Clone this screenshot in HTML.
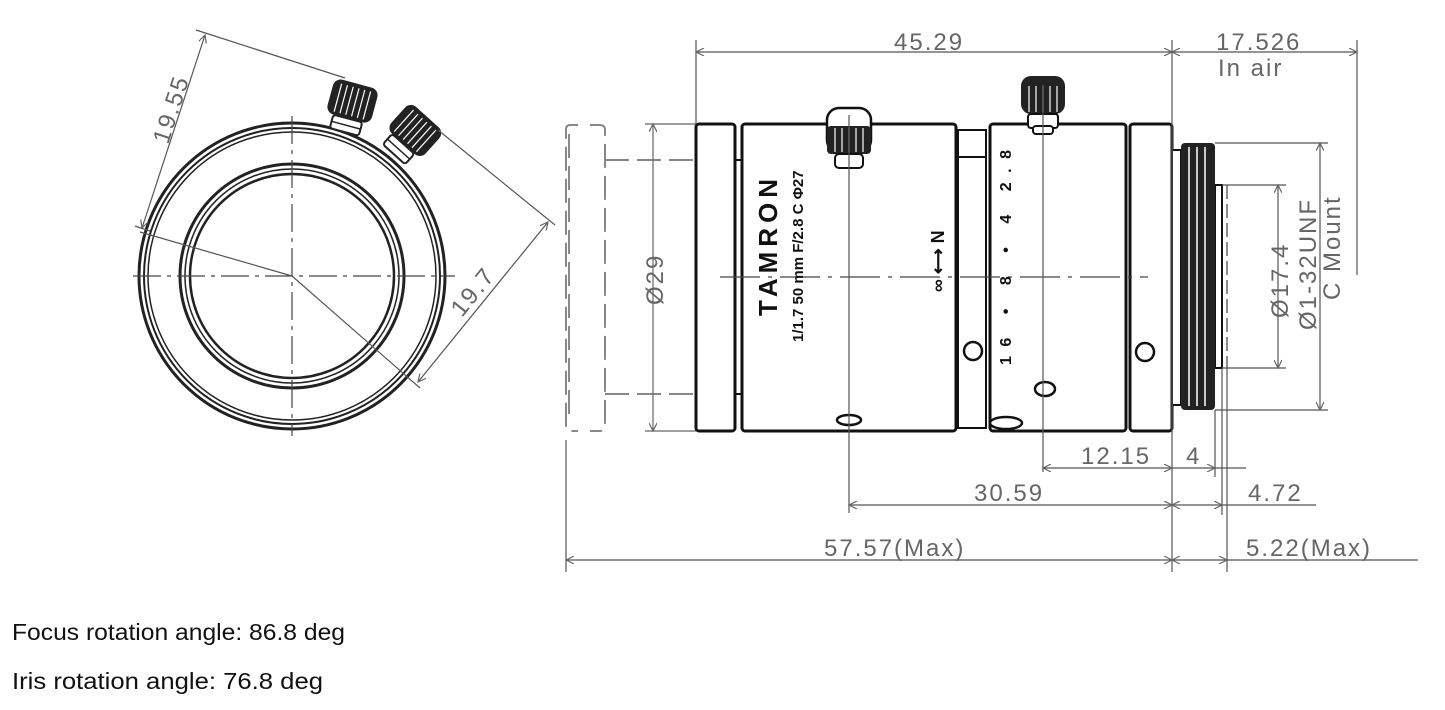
<!DOCTYPE html>
<html><head><meta charset="utf-8"><style>
html,body{margin:0;padding:0;background:#fff;width:1445px;height:710px;overflow:hidden}
svg{display:block}
.d{font-family:"Liberation Sans",sans-serif;font-size:24px;fill:#666;letter-spacing:2px}
.t{font-family:"Liberation Sans",sans-serif;font-weight:bold;fill:#111}
</style></head><body>
<svg width="1445" height="710" viewBox="0 0 1445 710" xmlns="http://www.w3.org/2000/svg">
<defs>
<marker id="a" viewBox="0 0 10 10" refX="10" refY="5" markerWidth="12" markerHeight="8" orient="auto-start-reverse" markerUnits="userSpaceOnUse"><path d="M0,0 L10,5 L0,10" fill="none" stroke="#666" stroke-width="1.5"/></marker>
<g id="knob">
<rect x="-23" y="-20" width="46" height="36" rx="8" fill="#222"/>
<g stroke="#fff" stroke-width="1.2"><line x1="-15" y1="-16" x2="-15" y2="13"/><line x1="-9" y1="-16" x2="-9" y2="13"/><line x1="-3" y1="-16" x2="-3" y2="13"/><line x1="3" y1="-16" x2="3" y2="13"/><line x1="9" y1="-16" x2="9" y2="13"/><line x1="15" y1="-16" x2="15" y2="13"/></g>
<rect x="-15" y="16" width="30" height="14" rx="3" fill="#fff" stroke="#222" stroke-width="2"/>
<line x1="-15" y1="23" x2="15" y2="23" stroke="#222" stroke-width="1.5"/>
</g>
</defs>

<!-- LEFT VIEW -->
<g fill="none" stroke="#222">
<circle cx="292" cy="276" r="153" stroke-width="3"/>
<circle cx="292" cy="276" r="148" stroke-width="2"/>
<circle cx="292" cy="276" r="144" stroke-width="1.5"/>
<circle cx="292" cy="276" r="112" stroke-width="3"/>
<circle cx="292" cy="276" r="107" stroke-width="1.5"/>
<circle cx="292" cy="276" r="102" stroke-width="2.5"/>
</g>
<g stroke="#444" stroke-width="1.2" stroke-dasharray="28,6,4,6">
<line x1="133" y1="276" x2="455" y2="276"/>
<line x1="292" y1="116" x2="292" y2="436"/>
</g>
<g transform="translate(352,103) rotate(15)"><use href="#knob"/></g>
<g transform="translate(414,132) rotate(42)"><use href="#knob"/></g>
<g stroke="#555" stroke-width="1.2" fill="none">
<line x1="292" y1="276" x2="140" y2="232"/>
<line x1="292" y1="276" x2="420" y2="388"/>
<line x1="196" y1="30" x2="345" y2="78"/>
<line x1="205" y1="35" x2="142" y2="228" marker-start="url(#a)" marker-end="url(#a)"/>
<line x1="135" y1="226" x2="150" y2="231"/>
<line x1="438" y1="130" x2="555" y2="225"/>
<line x1="548" y1="222" x2="418" y2="382" marker-start="url(#a)" marker-end="url(#a)"/>
</g>
<text class="d" transform="translate(168,145) rotate(-72)">19.55</text>
<text class="d" transform="translate(462,318) rotate(-51)">19.7</text>

<!-- RIGHT VIEW dashed cap -->
<g fill="none" stroke="#888" stroke-width="2" stroke-dasharray="24,8">
<path d="M578,125 H570 Q566,125 566,130 V426 Q566,431 570,431 H578"/>
<path d="M590,125 H600 Q605,125 605,130 V426 Q605,431 600,431 H590"/>
<line x1="569" y1="134" x2="569" y2="422"/>
<line x1="605" y1="160" x2="695" y2="160"/>
<line x1="605" y1="394" x2="695" y2="394"/>
</g>
<g stroke="#666" stroke-width="1.2">
<line x1="645" y1="124" x2="696" y2="124"/>
<line x1="645" y1="431" x2="696" y2="431"/>
<line x1="653" y1="124" x2="653" y2="431" marker-start="url(#a)" marker-end="url(#a)"/>
</g>
<text class="d" transform="translate(663,305) rotate(-90)">Ø29</text>

<!-- body -->
<g fill="#fff" stroke="#111" stroke-width="3">
<rect x="696" y="124" width="39" height="307" rx="3"/>
<rect x="742" y="124" width="214" height="307" rx="3"/>
<rect x="958" y="130" width="28" height="298" stroke-width="2"/>
<rect x="990" y="124" width="136" height="307" rx="3"/>
<rect x="1130" y="124" width="42" height="307" rx="3"/>
<rect x="1172" y="150" width="9" height="255" stroke-width="2"/>
<rect x="1215" y="185" width="7" height="183" stroke-width="2"/>
</g>
<line x1="735" y1="160" x2="742" y2="160" stroke="#111" stroke-width="2"/>
<line x1="735" y1="394" x2="742" y2="394" stroke="#111" stroke-width="2"/>
<line x1="958" y1="157" x2="986" y2="157" stroke="#111" stroke-width="2"/>
<!-- thread -->
<rect x="1181" y="143" width="34" height="267" rx="4" fill="#222"/>
<g stroke="#fff" stroke-width="1.5"><line x1="1189" y1="147" x2="1189" y2="406"/><line x1="1197" y1="147" x2="1197" y2="406"/><line x1="1205" y1="147" x2="1205" y2="406"/></g>
<line x1="1227" y1="185" x2="1227" y2="368" stroke="#666" stroke-width="1.5" stroke-dasharray="14,5"/>
<!-- center line -->
<line x1="720" y1="277" x2="1148" y2="277" stroke="#444" stroke-width="1.2" stroke-dasharray="40,8,4,8"/>
<!-- knobs -->
<g transform="translate(849,140)"><rect x="-22" y="-32" width="44" height="44" rx="12" fill="#fff" stroke="#111" stroke-width="2.5"/><rect x="-22" y="-14" width="44" height="28" rx="4" fill="#222"/><g stroke="#fff" stroke-width="1.2"><line x1="-14" y1="-12" x2="-14" y2="12"/><line x1="-7" y1="-12" x2="-7" y2="12"/><line x1="0" y1="-12" x2="0" y2="12"/><line x1="7" y1="-12" x2="7" y2="12"/><line x1="14" y1="-12" x2="14" y2="12"/></g><rect x="-14" y="14" width="28" height="14" rx="4" fill="#fff" stroke="#111" stroke-width="2"/></g>
<g transform="translate(1043,104)"><rect x="-22" y="-28" width="44" height="38" rx="10" fill="#222"/><g stroke="#fff" stroke-width="1.2"><line x1="-14" y1="-18" x2="-14" y2="8"/><line x1="-7" y1="-18" x2="-7" y2="8"/><line x1="0" y1="-18" x2="0" y2="8"/><line x1="7" y1="-18" x2="7" y2="8"/><line x1="14" y1="-18" x2="14" y2="8"/></g><rect x="-15" y="10" width="30" height="14" rx="3" fill="#fff" stroke="#111" stroke-width="2"/><rect x="-10" y="22" width="20" height="8" rx="3" fill="#fff" stroke="#111" stroke-width="2"/></g>
<!-- screws -->
<g fill="#fff" stroke="#111" stroke-width="2.5">
<ellipse cx="849" cy="420" rx="12" ry="5"/>
<ellipse cx="1045" cy="389" rx="10" ry="7"/>
<ellipse cx="1006" cy="423" rx="16" ry="6"/>
<circle cx="973" cy="351" r="9"/>
<circle cx="1145" cy="352" r="9"/>
</g>
<!-- lens text -->
<text class="t" font-size="26" letter-spacing="3" transform="translate(777,316) rotate(-90)" textLength="140">TAMRON</text>
<text class="t" font-size="15" transform="translate(803,342) rotate(-90)">1/1.7 50 mm F/2.8 C Φ27</text>
<text class="t" font-size="18" transform="translate(944,292) rotate(-90)">∞ ⟷ N</text>
<text class="t" font-size="16" transform="translate(1011,365) rotate(-90)" textLength="215">16 • 8 • 4 2.8</text>
<!-- vertical dim lines -->
<g stroke="#555" stroke-width="1.2" fill="none">
<line x1="849" y1="115" x2="849" y2="513"/>
<line x1="1043" y1="85" x2="1043" y2="472"/>
<line x1="696" y1="40" x2="696" y2="124"/>
<line x1="1172" y1="40" x2="1172" y2="572"/>
<line x1="1357" y1="40" x2="1357" y2="275"/>
<line x1="1215" y1="410" x2="1215" y2="477"/>
<line x1="1222" y1="368" x2="1222" y2="515"/>
<line x1="1227" y1="368" x2="1227" y2="572"/>
<line x1="566" y1="440" x2="566" y2="572"/>
<line x1="1222" y1="185" x2="1286" y2="185"/>
<line x1="1222" y1="368" x2="1286" y2="368"/>
<line x1="1215" y1="143" x2="1328" y2="143"/>
<line x1="1215" y1="410" x2="1328" y2="410"/>
<line x1="1278" y1="185" x2="1278" y2="368" marker-start="url(#a)" marker-end="url(#a)"/>
<line x1="1320" y1="143" x2="1320" y2="410" marker-start="url(#a)" marker-end="url(#a)"/>
<line x1="696" y1="52" x2="1172" y2="52" marker-start="url(#a)" marker-end="url(#a)"/>
<line x1="1172" y1="52" x2="1357" y2="52" marker-start="url(#a)" marker-end="url(#a)"/>
<line x1="1043" y1="468" x2="1172" y2="468" marker-start="url(#a)" marker-end="url(#a)"/>
<line x1="1172" y1="468" x2="1215" y2="468" marker-end="url(#a)"/>
<line x1="1215" y1="468" x2="1246" y2="468"/>
<line x1="849" y1="505" x2="1172" y2="505" marker-start="url(#a)" marker-end="url(#a)"/>
<line x1="1172" y1="505" x2="1222" y2="505" marker-start="url(#a)" marker-end="url(#a)"/>
<line x1="1222" y1="505" x2="1316" y2="505"/>
<line x1="566" y1="560" x2="1172" y2="560" marker-start="url(#a)" marker-end="url(#a)"/>
<line x1="1172" y1="560" x2="1227" y2="560" marker-start="url(#a)" marker-end="url(#a)"/>
<line x1="1227" y1="560" x2="1418" y2="560"/>
</g>
<text class="d" x="894" y="50">45.29</text>
<text class="d" x="1216" y="50">17.526</text>
<text class="d" x="1218" y="76">In air</text>
<text class="d" transform="translate(1288,318) rotate(-90)">Ø17.4</text>
<text class="d" font-size="20" letter-spacing="0" transform="translate(1316,330) rotate(-90)">Ø1-32UNF</text>
<text class="d" font-size="20" letter-spacing="0" transform="translate(1340,300) rotate(-90)">C Mount</text>
<text class="d" x="1081" y="464">12.15</text>
<text class="d" x="1186" y="464">4</text>
<text class="d" x="974" y="501">30.59</text>
<text class="d" x="1248" y="501">4.72</text>
<text class="d" x="824" y="556">57.57(Max)</text>
<text class="d" x="1246" y="556">5.22(Max)</text>

<text x="12" y="640" font-family="Liberation Sans,sans-serif" font-size="23" fill="#111" textLength="333" lengthAdjust="spacingAndGlyphs">Focus rotation angle: 86.8 deg</text>
<text x="12" y="689" font-family="Liberation Sans,sans-serif" font-size="23" fill="#111" textLength="311" lengthAdjust="spacingAndGlyphs">Iris rotation angle: 76.8 deg</text>
</svg>
</body></html>
